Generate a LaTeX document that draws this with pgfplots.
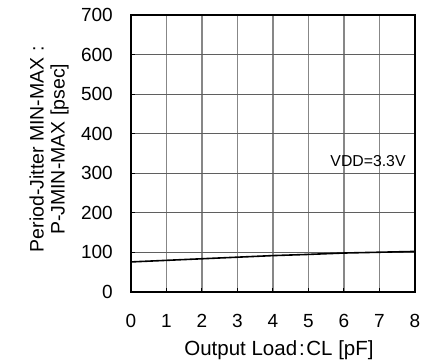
\documentclass[border=0pt]{standalone}
\usepackage{fontspec}
\setmainfont{Liberation Sans}
\usepackage{pgfplots}
\pgfplotsset{compat=1.18}
\definecolor{vgray}{RGB}{135,135,135}
\definecolor{hgray}{RGB}{95,95,95}
\begin{document}
\begin{tikzpicture}
\useasboundingbox (-131bp,-71bp) rectangle (303bp,292bp);
\begin{axis}[
  at={(0,0)}, anchor=origin,
  scale only axis,
  width=284bp, height=277bp,
  xmin=0, xmax=8, ymin=0, ymax=700,
  xtick={0,1,...,8}, ytick={0,100,...,700},
  xtick pos=left, ytick pos=left,
  tick align=inside,
  major tick length=4bp,
  every tick/.style={black, line width=1bp},
  xmajorgrids, ymajorgrids,
  x grid style={vgray, line width=1.2bp},
  y grid style={hgray, line width=0.9bp},
  axis line style={black, line width=1.6bp},
  /pgf/number format/assume math mode=true,
  ticklabel style={font=\fontsize{19bp}{22bp}\selectfont, inner sep=0pt},
  yticklabel style={anchor=east, xshift=-18bp},
  xticklabel style={anchor=north, yshift=-22bp},
  xlabel={Output Load\hspace{2bp}:\hspace{1.5bp}CL [pF]},
  xlabel style={font=\fontsize{20.5bp}{22bp}\selectfont, at={(axis description cs:0.5,0)}, anchor=north, inner sep=0pt, yshift=-48bp, xshift=6bp},
  ylabel={Period-Jitter MIN-MAX :\\P-JMIN-MAX [psec]},
  ylabel style={font=\fontsize{19.5bp}{21bp}\selectfont, align=center, at={(axis description cs:-0.358,0.515)}, anchor=north, inner sep=0pt},
]
\addplot[black, line width=1.6bp] coordinates {
(0,76) (1,80) (2,84) (3,88) (4,92) (5,95) (6,98.5) (7,100.5) (8,102.5)
};
\node[anchor=base east, inner sep=0pt, font=\fontsize{15.8bp}{18bp}\selectfont] at (axis cs:7.74,316) {VDD=3.3V};
\end{axis}
\end{tikzpicture}
\end{document}
